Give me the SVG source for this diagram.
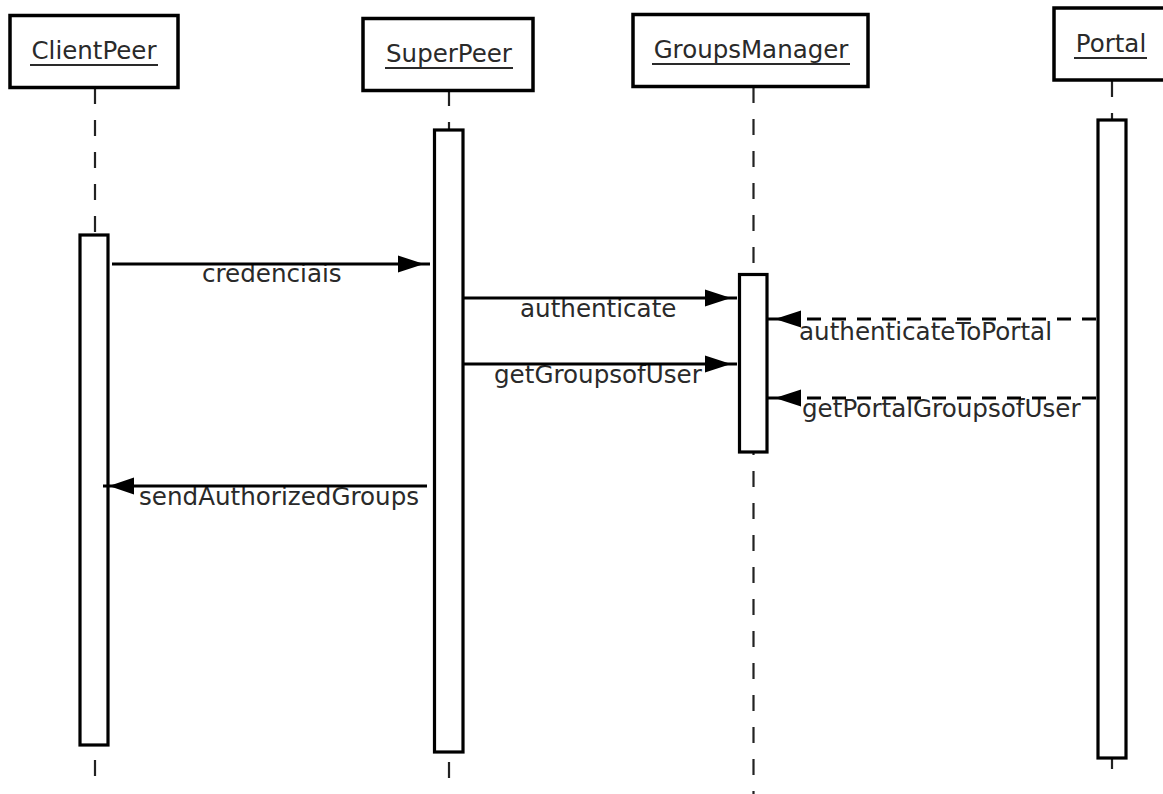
<svg xmlns="http://www.w3.org/2000/svg" width="1163" height="794" viewBox="0 0 1163 794">
<style>
  .box { fill: #fff; stroke: #000; stroke-width: 3.5; }
  .title { font-family: "DejaVu Sans", "Liberation Sans", sans-serif; font-size: 24.5px; fill: #2a2a2a; text-anchor: middle; }
  .ul { stroke: #2a2a2a; stroke-width: 2.2; }
  .life { stroke: #222; stroke-width: 2.2; stroke-dasharray: 16 16; fill: none; }
  .act { fill: #fff; stroke: #000; stroke-width: 3.2; }
  .msg { stroke: #000; stroke-width: 3; fill: none; }
  .ret { stroke: #000; stroke-width: 3; fill: none; stroke-dasharray: 14 11; }
  .head { fill: #000; }
  .lbl { font-family: "DejaVu Sans", "Liberation Sans", sans-serif; font-size: 24.6px; fill: #2a2a2a; }
</style>

<g id="lifelines">
  <line class="life" x1="95" y1="88" x2="95" y2="780"/>
  <line class="life" x1="449" y1="90" x2="449" y2="780"/>
  <line class="life" x1="753.5" y1="87" x2="753.5" y2="794"/>
  <line class="life" x1="1112" y1="81" x2="1112" y2="769"/>
</g>

<g id="ClientPeer">
  <rect class="box" x="10" y="15.5" width="168" height="72"/>
  <text class="title" x="94" y="59">ClientPeer</text>
  <line class="ul" x1="30" y1="65" x2="158" y2="65"/>
  <rect class="act" x="80" y="235" width="28" height="510"/>
</g>

<g id="SuperPeer">
  <rect class="box" x="363" y="18.5" width="170" height="72"/>
  <text class="title" x="449" y="62">SuperPeer</text>
  <line class="ul" x1="385" y1="68" x2="513" y2="68"/>
  <rect class="act" x="434.5" y="130" width="28.5" height="622"/>
</g>

<g id="GroupsManager">
  <rect class="box" x="633" y="14.5" width="235" height="72"/>
  <text class="title" x="751" y="58">GroupsManager</text>
  <line class="ul" x1="652" y1="64" x2="850" y2="64"/>
  <rect class="act" x="739.5" y="274.5" width="27.5" height="177.5"/>
</g>

<g id="Portal">
  <rect class="box" x="1054" y="8" width="120" height="72"/>
  <text class="title" x="1111" y="52">Portal</text>
  <line class="ul" x1="1074" y1="58" x2="1147" y2="58"/>
  <rect class="act" x="1098" y="120" width="28" height="638"/>
</g>

<g id="labels">
  <text class="lbl" x="202" y="282">credenciais</text>
  <text class="lbl" x="520" y="317">authenticate</text>
  <text class="lbl" x="494" y="383">getGroupsofUser</text>
  <text class="lbl" x="799" y="340">authenticateToPortal</text>
  <text class="lbl" x="802" y="417">getPortalGroupsofUser</text>
  <text class="lbl" x="139" y="505">sendAuthorizedGroups</text>
</g>

<g id="connectors">
  <line class="msg" x1="112" y1="264" x2="430" y2="264"/>
  <polygon class="head" points="398,255.5 424,264 398,272.5"/>

  <line class="msg" x1="463" y1="298" x2="737" y2="298"/>
  <polygon class="head" points="705,289.5 731,298 705,306.5"/>

  <line class="msg" x1="463" y1="364" x2="737" y2="364"/>
  <polygon class="head" points="705,355.5 731,364 705,372.5"/>

  <line class="ret" x1="1096" y1="319" x2="800" y2="319"/>
  <line class="msg" x1="767" y1="319" x2="800" y2="319"/>
  <polygon class="head" points="801,310.5 775,319 801,327.5"/>

  <line class="ret" x1="1096" y1="398" x2="800" y2="398"/>
  <line class="msg" x1="767" y1="398" x2="800" y2="398"/>
  <polygon class="head" points="801,389.5 775,398 801,406.5"/>

  <line class="msg" x1="427" y1="486" x2="103" y2="486"/>
  <polygon class="head" points="134,477.5 109,486 134,494.5"/>
</g>
</svg>
